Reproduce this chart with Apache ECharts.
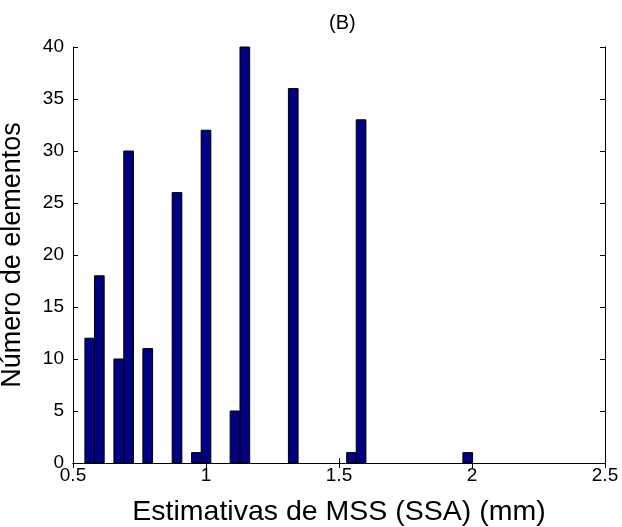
<!DOCTYPE html>
<html>
<head>
<meta charset="utf-8">
<script src="https://cdn.jsdelivr.net/npm/echarts@6/dist/echarts.min.js"></script>
<style>
  html, body { margin: 0; padding: 0; background: #fff; }
  #chart { width: 622px; height: 527px; }
</style>
</head>
<body>
<div id="chart"></div>
<script>
  // bin centres (histogram, 40 bins)
  const binCenters = [0.563, 0.599, 0.672, 0.709, 0.781, 0.891, 0.964, 1.000, 1.109, 1.146, 1.328, 1.547, 1.583, 1.984];
  const counts     = [12, 18, 10, 30, 11, 26, 1, 32, 5, 40, 36, 1, 33, 1];
  const binWidth = 0.0364;
  const xTicks = [0.5, 1, 1.5, 2, 2.5];
  const yTicks = [0, 5, 10, 15, 20, 25, 30, 35, 40];

  const font = 'Liberation Sans, Arial, sans-serif';
  const chart = echarts.init(document.getElementById('chart'));

  const axisCommon = {
    axisLine: { show: true, lineStyle: { color: '#000', width: 1 } },
    axisTick: { show: true, inside: true, length: 5, lineStyle: { color: '#000' } },
    splitLine: { show: false }
  };

  chart.setOption({
    animation: false,
    backgroundColor: '#fff',
    title: {
      text: '(B)',
      left: 324,
      top: 8,
      textStyle: { fontFamily: font, fontSize: 20, fontWeight: 'normal', color: '#000' }
    },
    grid: { left: 73, right: 17, top: 47, bottom: 64, outerBoundsMode: 'none', containLabel: false },
    xAxis: [
      Object.assign({}, axisCommon, {
        type: 'value', min: xTicks[0], max: xTicks[xTicks.length - 1], interval: 0.5,
        position: 'bottom',
        name: 'Estimativas de MSS (SSA) (mm)',
        nameLocation: 'middle', nameGap: 35,
        nameTextStyle: { fontFamily: font, fontSize: 28.5, color: '#000' },
        axisLabel: { fontFamily: font, fontSize: 19, color: '#000', margin: 3 }
      }),
      Object.assign({}, axisCommon, {
        type: 'value', min: xTicks[0], max: xTicks[xTicks.length - 1], interval: 0.5,
        position: 'top', axisLabel: { show: false }
      })
    ],
    yAxis: [
      Object.assign({}, axisCommon, {
        type: 'value', min: yTicks[0], max: yTicks[yTicks.length - 1], interval: 5,
        position: 'left',
        name: 'Número de elementos',
        nameLocation: 'middle', nameGap: 47, nameMoveOverlap: false,
        nameTextStyle: { fontFamily: font, fontSize: 27, color: '#000' },
        axisLabel: { fontFamily: font, fontSize: 19, color: '#000', margin: 9 }
      }),
      Object.assign({}, axisCommon, {
        type: 'value', min: yTicks[0], max: yTicks[yTicks.length - 1], interval: 5,
        position: 'right', axisLabel: { show: false }
      })
    ],
    series: [{
      type: 'custom',
      xAxisIndex: 0,
      yAxisIndex: 0,
      data: binCenters.map((x, i) => [x, counts[i]]),
      renderItem: function(params, api) {
        const x = api.value(0), y = api.value(1);
        const p0 = api.coord([x - binWidth / 2, y]);
        const p1 = api.coord([x + binWidth / 2, 0]);
        return {
          type: 'rect',
          shape: { x: p0[0], y: p0[1], width: p1[0] - p0[0], height: p1[1] - p0[1] },
          style: { fill: '#000080', stroke: '#000', lineWidth: 1 }
        };
      }
    }]
  });
</script>
</body>
</html>
